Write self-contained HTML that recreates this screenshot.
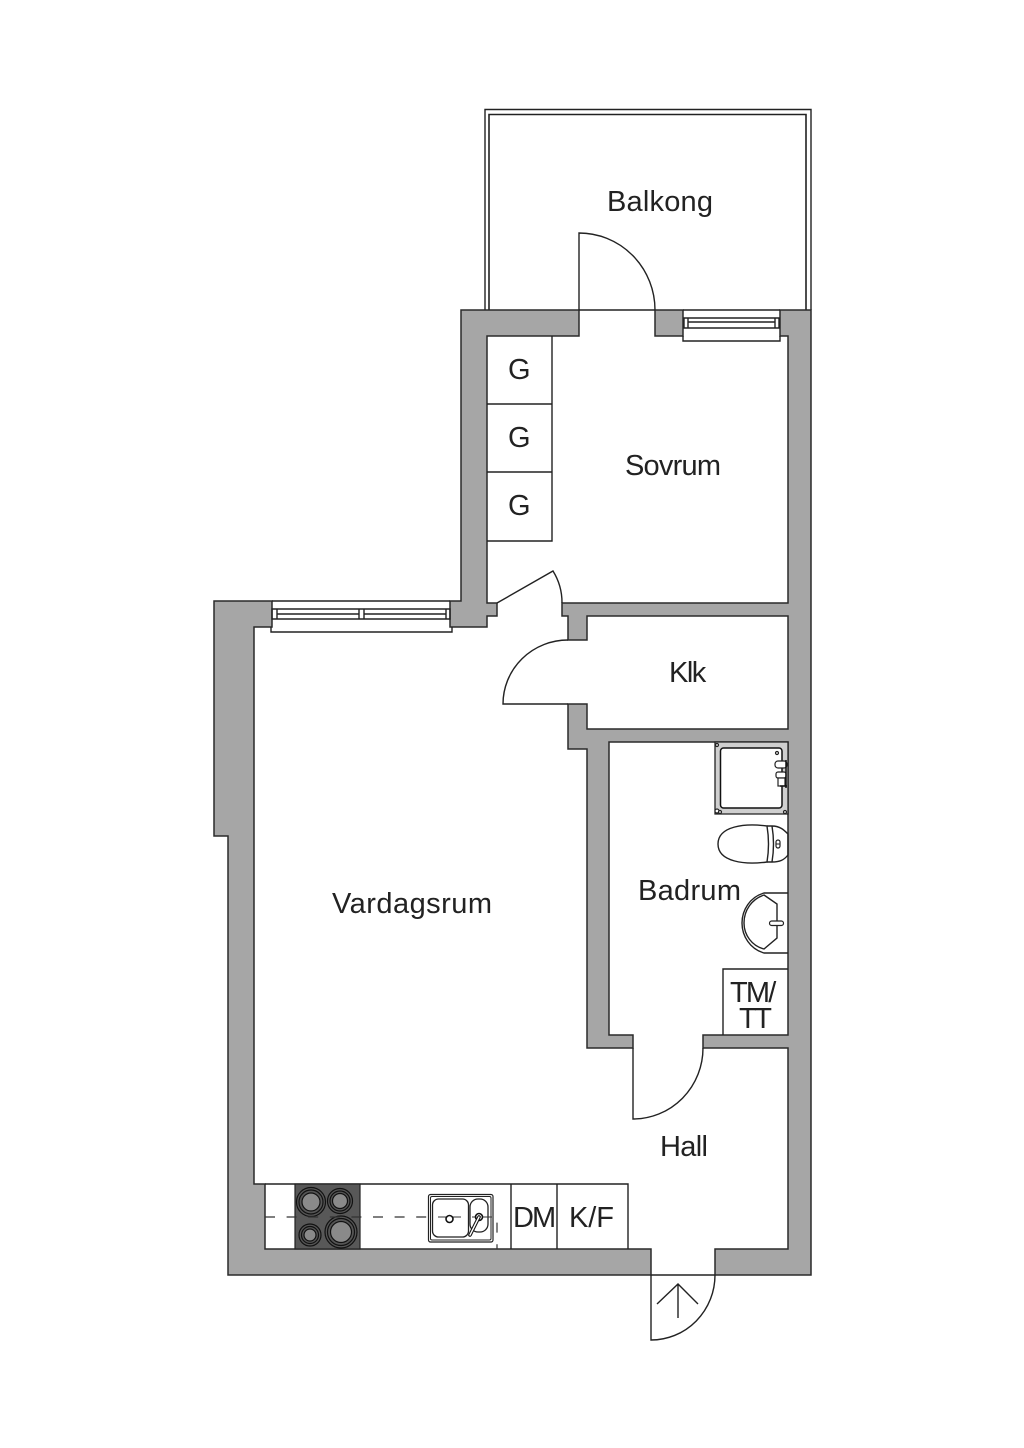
<!DOCTYPE html>
<html lang="sv">
<head>
<meta charset="utf-8">
<title>Planritning</title>
<style>
html,body{margin:0;padding:0;background:#fff}
svg{display:block}
text{font-family:"Liberation Sans",sans-serif;font-size:29px;fill:#222}
.l{fill:none;stroke:#222;stroke-width:1.4}
.w{fill:#a6a6a6;stroke:#2a2a2a;stroke-width:1.5;stroke-linejoin:miter}
.f{fill:#fff;stroke:#222;stroke-width:1.4}
</style>
</head>
<body>
<svg width="1024" height="1448" viewBox="0 0 1024 1448" xmlns="http://www.w3.org/2000/svg">
<rect width="1024" height="1448" fill="#fff"/>

<!-- balcony -->
<path class="l" d="M485 310V109.500H811V310"/>
<path class="l" d="M489 310V114.500H806V310" style="stroke-width:1.6"/>

<!-- walls -->
<path class="w" d="M461 310H579V336H487V603H497V616H487V627H450V601H461Z"/>
<path class="w" d="M655 310H683V336H655Z"/>
<path class="w" d="M780 310H811V1275H715V1249H788V1048H703V1035H788V742H609V1035H633V1048H587V749H568V704H587V729H788V616H587V640H568V616H562V603H788V336H780Z"/>
<path class="w" d="M214 601H272V627H254V1184H265V1249H651V1275H228V836H214Z"/>

<!-- thresholds -->
<path class="l" d="M579 310H655M651 1275H715M272 601H450M683 310H780"/>

<!-- doors -->
<path class="l" d="M579 310V233A76 77 0 0 1 655 310"/>
<path class="l" d="M497 603L553 571A60 60 0 0 1 562 603"/>
<path class="l" d="M568 704H503A65 64 0 0 1 568 640"/>
<path class="l" d="M633 1048V1119A70 71 0 0 0 703 1048"/>
<path class="l" d="M651 1275V1340A64 65 0 0 0 715 1275"/>
<path class="l" d="M678 1318V1284M657 1304L678 1284L698 1304"/>

<!-- sovrum window -->
<path class="l" d="M683 336V341H780V336"/>
<path class="l" d="M684 318H779V328H684ZM688 318V328M775 318V328M688 322H775"/>

<!-- vardagsrum window -->
<path class="l" d="M271 627V632H452V627"/>
<path class="l" d="M272 609H450V619H272ZM277 609V619M446 609V619M277 614H359M364 614H446M359 609V619M364 609V619"/>

<!-- closets -->
<path class="l" d="M552 336V541H487M487 404H552M487 472H552"/>

<!-- kitchen -->
<path class="l" d="M265 1184H628V1249M511 1184V1249M557 1184V1249"/>
<rect x="295" y="1184" width="65" height="65" fill="#585858" stroke="#222" stroke-width="1.2"/>
<g fill="#555" stroke="#111" stroke-width="1.2">
<circle cx="311" cy="1202" r="14.500"/><circle cx="311" cy="1202" r="12"/><circle cx="311" cy="1202" r="9" fill="#8a8a8a"/>
<circle cx="340" cy="1201" r="12.500"/><circle cx="340" cy="1201" r="10"/><circle cx="340" cy="1201" r="7.500" fill="#8a8a8a"/>
<circle cx="310" cy="1235" r="11"/><circle cx="310" cy="1235" r="8.500"/><circle cx="310" cy="1235" r="6" fill="#8a8a8a"/>
<circle cx="341" cy="1232" r="16"/><circle cx="341" cy="1232" r="13.500"/><circle cx="341" cy="1232" r="10.500" fill="#8a8a8a"/>
</g>
<path d="M265 1217H497V1249" fill="none" stroke="#333" stroke-width="1.2" stroke-dasharray="10 11.6"/>
<rect x="428.500" y="1194.500" width="64.500" height="47.500" rx="2" fill="#fff" stroke="#222" stroke-width="1.200"/>
<rect x="430.500" y="1196.500" width="60.500" height="43.500" rx="1.500" fill="#fff" stroke="#222" stroke-width="1"/>
<rect x="432.500" y="1199" width="36" height="38" rx="6" fill="#fff" stroke="#222" stroke-width="1.300"/>
<rect x="470" y="1199" width="18" height="33" rx="8" fill="#fff" stroke="#222" stroke-width="1.300"/>
<path d="M438 1217H461M472 1217H492" stroke="#333" stroke-width="1.100" fill="none"/>
<circle cx="449.500" cy="1219" r="3.500" fill="#fff" stroke="#111" stroke-width="1.600"/>
<circle cx="479" cy="1217" r="3.500" fill="#fff" stroke="#111" stroke-width="1.600"/>
<path d="M479 1217L470 1235" stroke="#111" stroke-width="3.600" stroke-linecap="round" fill="none"/>
<path d="M479 1217L470 1235" stroke="#fff" stroke-width="1.400" stroke-linecap="round" fill="none"/>

<!-- shower -->
<path d="M715 742H788V814H715Z" fill="#cfcfcf" stroke="#222" stroke-width="1.300"/>
<rect x="720.500" y="748" width="61.500" height="60" rx="3" fill="#fff" stroke="#111" stroke-width="1.500"/>
<g fill="#fff" stroke="#222" stroke-width="1.200">
<circle cx="717" cy="745" r="1.500"/><circle cx="717" cy="811" r="2"/><circle cx="720" cy="812" r="1.500"/><circle cx="785" cy="812" r="1.500"/><circle cx="777" cy="753" r="1.500"/>
<rect x="775" y="761" width="12" height="7" rx="3"/>
<rect x="776" y="772" width="10" height="6" rx="2"/>
<rect x="778" y="778" width="7" height="8"/>
</g>
<path d="M780 786H787M786 760V788" stroke="#111" stroke-width="1.500"/>

<!-- toilet -->
<path class="l" d="M767 826C745 823 718 826 718 844C718 862 745 865 767 862C769 850 769 838 767 826Z"/>
<path class="l" d="M767 826H772C780 826 784 830 788 834V855C784 860 780 862 772 862H767M772 826C774 838 774 850 772 862"/>
<rect x="776" y="840" width="4" height="8" rx="2" fill="none" stroke="#222" stroke-width="1.200"/>
<path d="M776 844H780" stroke="#222" stroke-width="1"/>

<!-- basin -->
<path class="l" d="M788 893H764C750 897 742 910 742 923C742 936 750 949 764 953H788"/>
<path class="l" d="M764 895L777 904V938L764 949C752 946 744 935 744 923C744 910 752 899 764 895Z"/>
<rect x="769.500" y="921" width="14" height="4.500" rx="2.200" fill="#fff" stroke="#222" stroke-width="1.200"/>

<!-- TM/TT -->
<path class="l" d="M723 1035V969H788"/>

<!-- labels -->
<text x="607" y="211" textLength="106" lengthAdjust="spacing">Balkong</text>
<text x="625" y="475" textLength="96" lengthAdjust="spacing">Sovrum</text>
<text x="508" y="379">G</text>
<text x="508" y="447">G</text>
<text x="508" y="515">G</text>
<text x="669" y="682" letter-spacing="-1.500">Klk</text>
<text x="332" y="913" textLength="160" lengthAdjust="spacing">Vardagsrum</text>
<text x="638" y="900" textLength="103" lengthAdjust="spacing">Badrum</text>
<text x="730" y="1002" letter-spacing="-1.800">TM/</text>
<text x="739" y="1028" letter-spacing="-2.500">TT</text>
<text x="660" y="1156" textLength="48" lengthAdjust="spacing">Hall</text>
<text x="513" y="1227" letter-spacing="-2">DM</text>
<text x="569" y="1227" textLength="45" lengthAdjust="spacing">K/F</text>
</svg>
</body>
</html>
